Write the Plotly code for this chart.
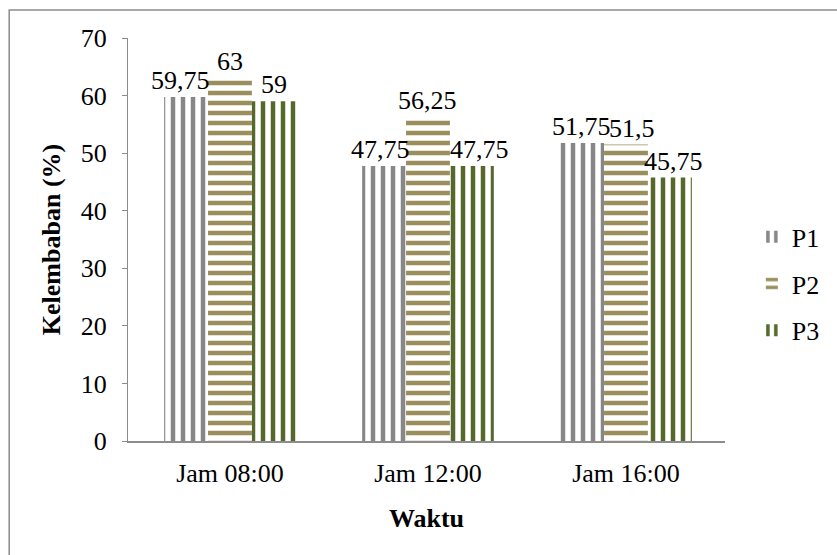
import plotly.graph_objects as go

# Relative humidity readings per treatment at three times of day
categories = ["Jam 08:00", "Jam 12:00", "Jam 16:00"]
series_names = ["P1", "P2", "P3"]
p1 = [59.75, 47.75, 51.75]
p2 = [63, 56.25, 51.5]
p3 = [59, 47.75, 45.75]
y_ticks = [0, 10, 20, 30, 40, 50, 60, 70]

series_values = [p1, p2, p3]
colors = ["#878787", "#9a8f5c", "#55692b"]
shapes = ["|", "-", "|"]

FONT = "Liberation Serif"
FS = 26

# plot geometry
L, R, T, B = 128, 106, 38, 114
W, H = 837, 555
X_RANGE = [-0.515, 2.5]
BARGAP = 0.335
px_per_cat = (W - L - R) / (X_RANGE[1] - X_RANGE[0])
bar_px = px_per_cat * (1 - BARGAP) / len(series_names)

# small horizontal nudges that keep neighbouring value labels apart
label_nudge = [[-5, -3, 0], [0, 0, 6], [0, 7, 3]]


def fmt(v):
    return ("%g" % v).replace(".", ",")


fig = go.Figure()
annotations = []
for si, (name, vals, col, shp) in enumerate(zip(series_names, series_values, colors, shapes)):
    fig.add_trace(go.Bar(
        name=name,
        x=categories,
        y=vals,
        legendgroup=name,
        marker=dict(
            color="white",
            line=dict(width=0),
            pattern=dict(shape=shp, fgcolor=col, bgcolor="white",
                         size=10, solidity=0.45, fgopacity=1,
                         fillmode="replace"),
        ),
    ))
    for ci, (cat, v) in enumerate(zip(categories, vals)):
        annotations.append(dict(
            x=cat, y=v, xref="x", yref="y",
            text=fmt(v), showarrow=False,
            xanchor="center", yanchor="bottom",
            xshift=(si - 1) * bar_px + label_nudge[si][ci], yshift=0,
            font=dict(family=FONT, size=FS, color="black"),
        ))

fig.update_layout(
    width=W,
    height=H,
    margin=dict(l=L, r=R, t=T, b=B),
    paper_bgcolor="white",
    plot_bgcolor="white",
    barmode="group",
    bargap=BARGAP,
    bargroupgap=0,
    font=dict(family=FONT, size=FS, color="black"),
    showlegend=True,
    annotations=annotations,
    legend=dict(
        x=1.045, xanchor="left",
        y=0.565, yanchor="top",
        traceorder="grouped",
        tracegroupgap=10,
        font=dict(family=FONT, size=FS, color="black"),
        itemwidth=30,
        bgcolor="rgba(0,0,0,0)",
    ),
    xaxis=dict(
        range=X_RANGE,
        showline=True, linecolor="#8c8c8c", linewidth=2,
        ticks="", showgrid=False,
        ticklabelstandoff=8,
        tickfont=dict(family=FONT, size=FS, color="black"),
        title=dict(text="<b>Waktu</b>", standoff=22,
                   font=dict(family=FONT, size=FS, color="black")),
    ),
    yaxis=dict(
        range=[0, 70],
        tickvals=y_ticks,
        showline=True, linecolor="#8c8c8c", linewidth=1,
        ticks="outside", ticklen=5, tickcolor="#8c8c8c",
        ticklabelstandoff=10,
        showgrid=False, zeroline=False,
        tickfont=dict(family=FONT, size=FS, color="black"),
        title=dict(text="<b>Kelembaban (%)</b>", standoff=12,
                   font=dict(family=FONT, size=FS, color="black")),
    ),
    shapes=[dict(
        type="rect", xref="paper", yref="paper",
        x0=-120 / 603, x1=720 / 603, y0=-130 / 403, y1=431 / 403,
        line=dict(color="#8c8c8c", width=1.5), fillcolor="rgba(0,0,0,0)",
        layer="below",
    )],
)

fig.write_html("out.html")
